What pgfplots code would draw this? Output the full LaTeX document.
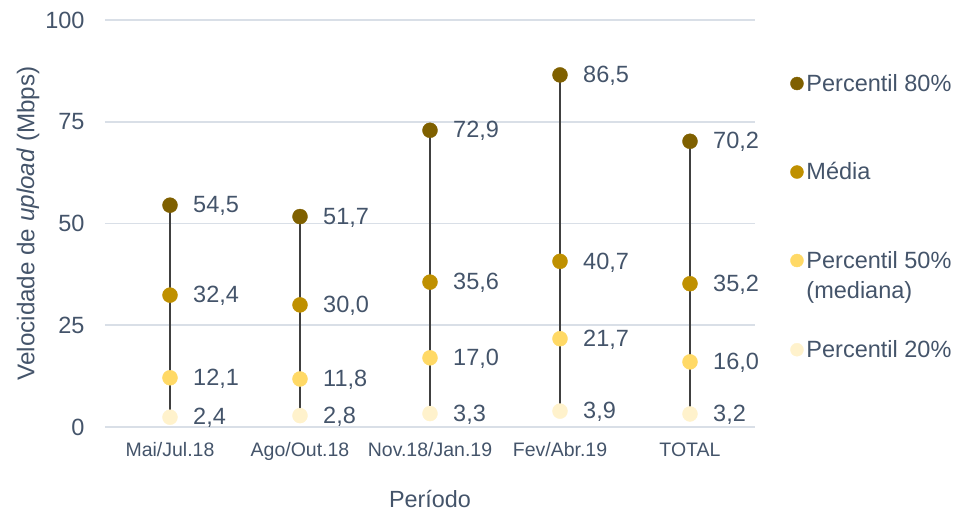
\documentclass[border=0pt]{standalone}
\usepackage{fontspec}
\setmainfont{Liberation Sans}
\usepackage{pgfplots}
\usepackage{pgfplotstable}
\pgfplotsset{compat=1.18}

\definecolor{pOitenta}{HTML}{7F6000}
\definecolor{pMedia}{HTML}{BF9000}
\definecolor{pCinquenta}{HTML}{FFD966}
\definecolor{pVinte}{HTML}{FFF2CC}
\definecolor{textc}{HTML}{44546A}
\definecolor{gridc}{HTML}{D9DFE7}
\definecolor{stemc}{HTML}{404040}

% velocidade de upload (Mbps) por periodo
\pgfplotstableread{
cat p80  media p50  p20
0   54.5 32.4  12.1 2.4
1   51.7 30.0  11.8 2.8
2   72.9 35.6  17.0 3.3
3   86.5 40.7  21.7 3.9
4   70.2 35.2  16.0 3.2
}\velocidades

\pgfplotsset{
  dotlegend/.style={legend image code/.code={\draw[##1] plot coordinates {(0pt,0pt)};}},
  stem/.style={forget plot, color=stemc, line width=2pt},
  dots/.style={forget plot, only marks, mark=*, mark size=7.5pt,
    mark options={draw=#1, fill=#1}},
}

\begin{document}
\begin{tikzpicture}
\useasboundingbox (-105pt,-84pt) rectangle (856pt,427pt);
\begin{axis}[
  at={(0pt,0pt)}, anchor=south west,
  scale only axis, width=650pt, height=407pt,
  xmin=-0.5, xmax=4.5, ymin=0, ymax=100,
  xtick={0,1,2,3,4},
  xticklabels={Mai/Jul.18, Ago/Out.18, Nov.18/Jan.19, Fev/Abr.19, TOTAL},
  ytick={0,25,50,75,100},
  axis line style={draw=none},
  major tick length=0pt,
  ymajorgrids, grid style={line width=1.6pt, color=gridc},
  clip=false,
  /pgf/number format/assume math mode=true,
  tick label style={text=textc},
  yticklabel style={font=\fontsize{23.5}{27}\selectfont, xshift=-17pt},
  xticklabel style={font=\fontsize{19.5}{23}\selectfont, yshift=-12pt},
  xlabel={Período},
  ylabel={Velocidade de \textit{upload} (Mbps)},
  xlabel style={font=\fontsize{23.4}{27}\selectfont, text=textc,
    at={([yshift=-72pt]axis description cs:0.5,0)}, anchor=center},
  ylabel style={font=\fontsize{24.2}{28}\selectfont, text=textc,
    at={([xshift=-77pt]axis description cs:0,0.5)}, anchor=center},
  nodes near coords={\pgfmathprintnumber[fixed, fixed zerofill, precision=1, use comma]{\pgfplotspointmeta}},
  nodes near coords style={anchor=west, inner sep=0pt, xshift=23pt, yshift=-1pt,
    font=\fontsize{23.5}{27}\selectfont, text=textc},
  legend style={draw=none, fill=none,
    at={(axis description cs:1.0546,0.8667)}, anchor=north west,
    inner sep=0pt, outer sep=0pt, row sep=11.5pt, column sep=3pt,
    nodes={inner sep=0pt, anchor=west},
    font=\fontsize{23.5}{28}\selectfont, text=textc},
  legend cell align=left,
]
% hastes entre o percentil 20% e o percentil 80%
\addplot[stem, nodes near coords=] coordinates {(0,2.4) (0,54.5)};
\addplot[stem, nodes near coords=] coordinates {(1,2.8) (1,51.7)};
\addplot[stem, nodes near coords=] coordinates {(2,3.3) (2,72.9)};
\addplot[stem, nodes near coords=] coordinates {(3,3.9) (3,86.5)};
\addplot[stem, nodes near coords=] coordinates {(4,3.2) (4,70.2)};

% pontos com os respetivos rotulos
\addplot[dots=pOitenta]   table[x=cat, y=p80]   {\velocidades};
\addplot[dots=pMedia]     table[x=cat, y=media] {\velocidades};
\addplot[dots=pCinquenta] table[x=cat, y=p50]   {\velocidades};
\addplot[dots=pVinte]     table[x=cat, y=p20]   {\velocidades};

% legenda (linhas vazias para espacar as entradas)
\addlegendimage{only marks, mark=*, mark size=6.5pt, color=pOitenta, dotlegend}
\addlegendentry{Percentil 80\%}
\addlegendimage{empty legend}\addlegendentry{\phantom{P}}
\addlegendimage{empty legend}\addlegendentry{\phantom{P}}
\addlegendimage{only marks, mark=*, mark size=6.5pt, color=pMedia, dotlegend}
\addlegendentry{Média}
\addlegendimage{empty legend}\addlegendentry{\phantom{P}}
\addlegendimage{empty legend}\addlegendentry{\phantom{P}}
\addlegendimage{only marks, mark=*, mark size=6.5pt, color=pCinquenta, dotlegend}
\addlegendentry{Percentil 50\%}
\addlegendimage{empty legend}\addlegendentry{(mediana)}
\addlegendimage{empty legend}\addlegendentry{\phantom{P}}
\addlegendimage{only marks, mark=*, mark size=6.5pt, color=pVinte, dotlegend}
\addlegendentry{Percentil 20\%}
\end{axis}
\end{tikzpicture}
\end{document}
